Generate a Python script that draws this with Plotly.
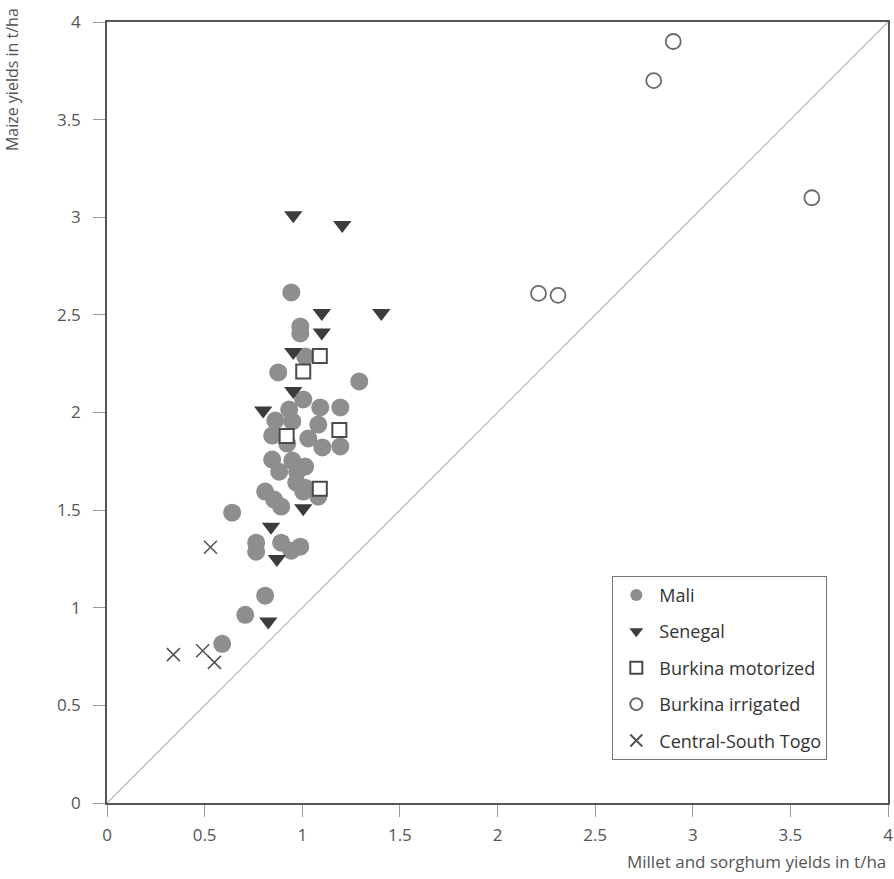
import plotly.graph_objects as go

# Data (t/ha)
mali_x = [0.944, 0.990, 0.990, 1.015, 0.877, 1.292, 1.005, 1.092, 1.195, 0.933,
          0.862, 0.949, 1.082, 0.846, 0.923, 1.031, 1.103, 1.195, 0.846, 0.949,
          1.015, 0.882, 0.974, 0.969, 1.015, 0.810, 1.005, 1.082, 0.856, 0.892,
          0.641, 0.764, 0.764, 0.892, 0.944, 0.990, 0.810, 0.708, 0.590]
mali_y = [2.615, 2.441, 2.405, 2.287, 2.205, 2.159, 2.067, 2.026, 2.026, 2.015,
          1.959, 1.954, 1.938, 1.882, 1.841, 1.867, 1.821, 1.826, 1.759, 1.754,
          1.723, 1.697, 1.697, 1.641, 1.615, 1.595, 1.595, 1.569, 1.554, 1.518,
          1.487, 1.333, 1.287, 1.333, 1.292, 1.313, 1.062, 0.964, 0.815]

senegal_x = [0.954, 1.205, 1.10, 1.405, 1.10, 0.954, 0.954, 0.80, 1.005, 0.84, 0.87, 0.826]
senegal_y = [3.01, 2.96, 2.51, 2.51, 2.41, 2.31, 2.11, 2.01, 1.51, 1.415, 1.25, 0.93]

motor_x = [1.09, 1.005, 0.92, 1.19, 1.09]
motor_y = [2.29, 2.21, 1.88, 1.91, 1.61]

irrig_x = [2.90, 2.80, 3.61, 2.21, 2.31]
irrig_y = [3.90, 3.70, 3.10, 2.61, 2.60]

togo_x = [0.53, 0.34, 0.49, 0.55]
togo_y = [1.31, 0.76, 0.78, 0.72]

diag = [0, 4]
ticks = [0, 0.5, 1, 1.5, 2, 2.5, 3, 3.5, 4]
tick_text = ["0", "0.5", "1", "1.5", "2", "2.5", "3", "3.5", "4"]

FONT = "'Open Sans', 'Noto Sans', sans-serif"

fig = go.Figure()

fig.add_trace(go.Scatter(x=diag, y=diag, mode="lines",
                         line=dict(color="#b4b4b4", width=1.2),
                         showlegend=False, hoverinfo="skip"))

fig.add_trace(go.Scatter(x=mali_x, y=mali_y, mode="markers", name="Mali", legendgroup="a",
                         marker=dict(symbol="circle", size=18, color="#8e8e8e",
                                     line=dict(width=0))))
fig.add_trace(go.Scatter(x=senegal_x, y=senegal_y, mode="markers", name="Senegal", legendgroup="b",
                         marker=dict(symbol="triangle-down", size=16, color="#3c3c3c",
                                     line=dict(width=0))))
fig.add_trace(go.Scatter(x=motor_x, y=motor_y, mode="markers", name="Burkina motorized", legendgroup="c",
                         marker=dict(symbol="square", size=14, color="white",
                                     line=dict(width=2, color="#4a4a4a"))))
fig.add_trace(go.Scatter(x=irrig_x, y=irrig_y, mode="markers", name="Burkina irrigated", legendgroup="d",
                         marker=dict(symbol="circle", size=15, color="white",
                                     line=dict(width=1.8, color="#6a6a6a"))))
fig.add_trace(go.Scatter(x=togo_x, y=togo_y, mode="markers", name="Central-South Togo", legendgroup="e",
                         marker=dict(symbol="x-thin", size=13, color="#555555",
                                     line=dict(width=1.6, color="#555555"))))

axis_common = dict(range=[0, 4], tickvals=ticks, ticktext=tick_text,
                   showgrid=False, zeroline=False, showline=True, automargin=False,
                   linecolor="#555555", linewidth=1.5, mirror=True,
                   ticks="outside", ticklen=12, tickcolor="#999999", tickwidth=1,
                   tickfont=dict(family=FONT, size=17, color="#555555"))

fig.update_xaxes(**axis_common, ticklabelstandoff=4)
fig.update_yaxes(**axis_common, ticklabelstandoff=9)

fig.update_layout(
    width=894, height=879,
    margin=dict(l=107, r=6, t=22, b=76),
    plot_bgcolor="white", paper_bgcolor="white",
    font=dict(family=FONT, color="#555555"),
    legend=dict(x=0.647, y=0.291, xanchor="left", yanchor="top",
                bordercolor="#777777", borderwidth=1, bgcolor="white",
                font=dict(family=FONT, size=18, color="#333333"),
                itemsizing="constant", itemwidth=36, tracegroupgap=10),
    annotations=[
        dict(text="Millet and sorghum yields in t/ha", xref="paper", yref="paper",
             x=1.0, y=-0.058, xanchor="right", yanchor="top", showarrow=False,
             font=dict(family=FONT, size=17, color="#555555")),
        dict(text="Maize yields in t/ha", xref="paper", yref="paper",
             x=-0.138, y=1.02, xanchor="left", yanchor="top", textangle=-90,
             showarrow=False, font=dict(family=FONT, size=16, color="#555555")),
    ],
)

# remove the browser's default 8px page margin so the figure fills the window
fig.write_html("out.html",
               config={"displayModeBar": False},
               post_script="document.body.style.margin='0';document.body.style.overflow='hidden';")
